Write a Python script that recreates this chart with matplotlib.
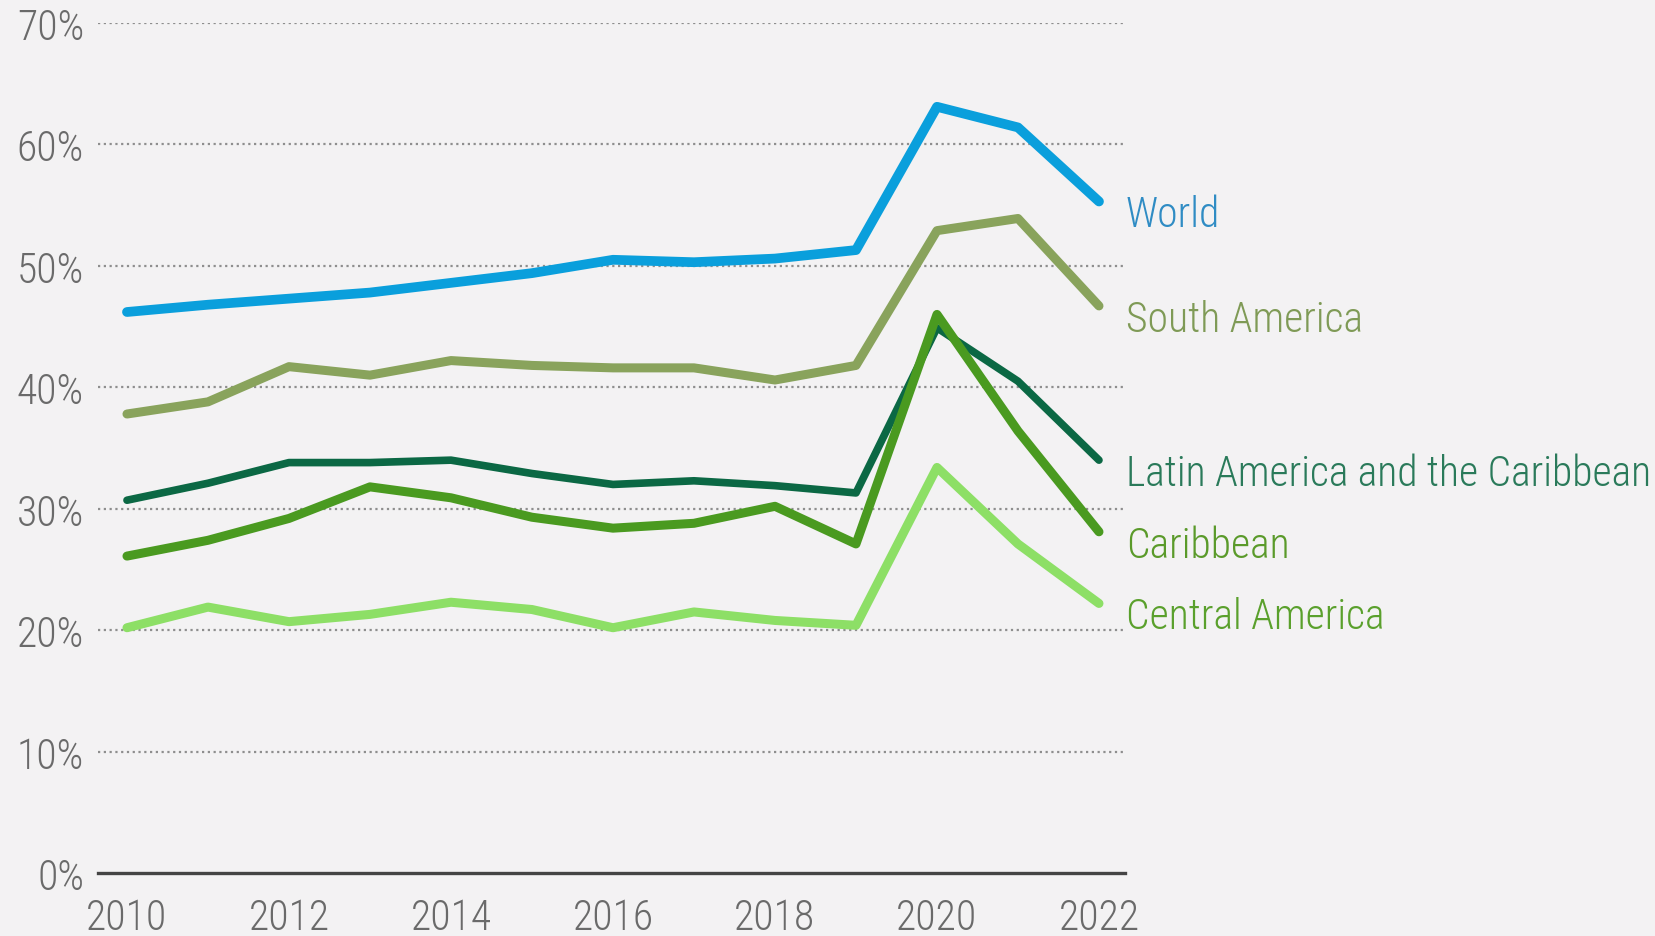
import matplotlib
matplotlib.use("Agg")
import matplotlib.pyplot as plt
from matplotlib.ticker import FuncFormatter

years = list(range(2010, 2023))
series_names = ["World", "South America", "Latin America and the Caribbean", "Caribbean", "Central America"]
world = [46.2, 46.8, 47.3, 47.8, 48.6, 49.4, 50.5, 50.3, 50.6, 51.3, 63.1, 61.4, 55.3]
south_america = [37.8, 38.8, 41.7, 41.0, 42.2, 41.8, 41.6, 41.6, 40.6, 41.8, 52.9, 53.9, 46.7]
latam_carib = [30.7, 32.1, 33.8, 33.8, 34.0, 32.9, 32.0, 32.3, 31.9, 31.3, 44.9, 40.5, 34.0]
caribbean = [26.1, 27.4, 29.2, 31.8, 30.9, 29.3, 28.4, 28.8, 30.2, 27.1, 46.0, 36.4, 28.1]
central_america = [20.2, 21.9, 20.7, 21.3, 22.3, 21.7, 20.2, 21.5, 20.8, 20.4, 33.4, 27.1, 22.2]
y_ticks = [0, 10, 20, 30, 40, 50, 60, 70]
x_ticks = [2010, 2012, 2014, 2016, 2018, 2020, 2022]

values = [world, south_america, latam_carib, caribbean, central_america]
line_colors = ["#0a9fdc", "#89a35c", "#0b6844", "#4a9a20", "#8ddf66"]
text_colors = ["#2f8cc4", "#7f9a56", "#2a7a5a", "#5a9a2a", "#5aa02c"]
widths = [7.0, 6.5, 5.5, 6.5, 6.5]
label_offset = -1.1

FAM = ["Roboto Condensed", "Roboto", "DejaVu Sans"]
bg = "#f3f2f3"

fig = plt.figure(figsize=(16.55, 9.37), dpi=100, facecolor=bg)
ax = fig.add_axes([0.0592, 0.0672, 0.6205, 0.9072], facecolor=bg)

for yv in y_ticks[1:]:
    ax.axhline(yv, xmin=0, xmax=0.998, color="#8e8e8e", lw=1.6, ls=(0, (1, 1.6)), zorder=1)

for name, vals, c, tc, w in zip(series_names, values, line_colors, text_colors, widths):
    ax.plot(years, vals, color=c, lw=w, solid_capstyle="round", solid_joinstyle="round", zorder=3)
    ax.text(2022.33, vals[-1] + label_offset, name, color=tc, fontsize=30, family=FAM,
            fontweight="light", va="center", ha="left", clip_on=False)

ax.set_xlim(2009.642, 2022.32)
ax.set_ylim(0, 70)
ax.set_yticks(y_ticks)
ax.set_xticks(x_ticks)
ax.yaxis.set_major_formatter(FuncFormatter(lambda v, p: f"{int(v)}%"))
for s in ["top", "right", "left"]:
    ax.spines[s].set_visible(False)
ax.spines["bottom"].set_color("#444444")
ax.spines["bottom"].set_linewidth(2.4)
ax.tick_params(axis="both", length=0, labelsize=30, labelcolor="#6a6a6a")
ax.tick_params(axis="y", pad=10)
ax.tick_params(axis="x", pad=17)
for lab in ax.get_xticklabels() + ax.get_yticklabels():
    lab.set_family(FAM)
    lab.set_fontweight("light")

fig.savefig("out.png", dpi=100, facecolor=bg)
